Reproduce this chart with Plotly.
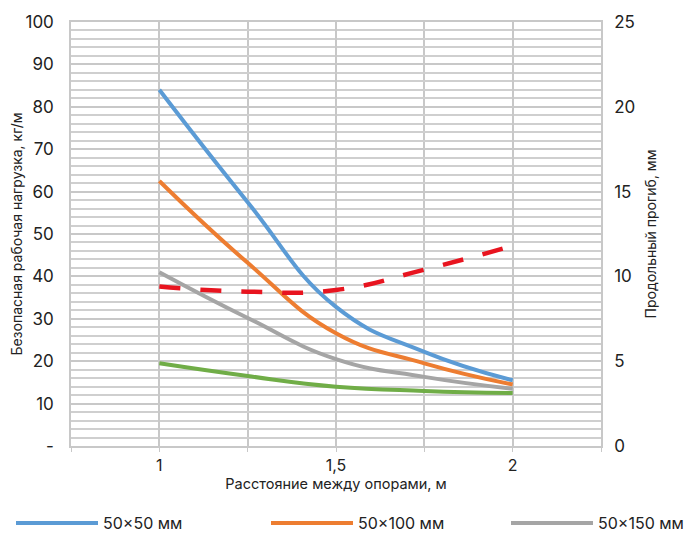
import plotly.graph_objects as go

x = [1.0, 1.25, 1.5, 1.75, 2.0]
s50x50 = [84.0, 57.5, 32.8, 22.2, 15.5]
s50x100 = [62.5, 43.2, 26.6, 19.5, 14.5]
s50x150 = [41.0, 30.2, 20.5, 16.3, 13.5]
s50x200 = [19.5, 16.5, 14.0, 13.0, 12.5]
deflection = [9.4, 9.1, 9.2, 10.4, 11.8]

x_tickvals = [1, 1.5, 2]
x_ticktext = ["1", "1,5", "2"]
y_tickvals = [0, 10, 20, 30, 40, 50, 60, 70, 80, 90, 100]
y_ticktext = ["-", "10", "20", "30", "40", "50", "60", "70", "80", "90", "100"]
y2_tickvals = [0, 5, 10, 15, 20, 25]

FONT = "Inter, Noto Sans, sans-serif"
SM = 1.3

L, R, T, B = 63, 100, 14, 96
W, H = 693, 534
gw = W - L - R
gh = H - T - B

fig = go.Figure()
fig.add_trace(go.Scatter(x=x, y=s50x50, mode="lines", name="50×50 мм", legend="legend",
                         line=dict(color="#5b9bd5", width=4, shape="spline", smoothing=SM)))
fig.add_trace(go.Scatter(x=x, y=s50x100, mode="lines", name="50×100 мм", legend="legend2",
                         line=dict(color="#ed7d31", width=4, shape="spline", smoothing=SM)))
fig.add_trace(go.Scatter(x=x, y=s50x150, mode="lines", name="50×150 мм", legend="legend3",
                         line=dict(color="#a5a5a5", width=4, shape="spline", smoothing=SM)))
fig.add_trace(go.Scatter(x=x, y=s50x200, mode="lines", name="50×200 мм",
                         line=dict(color="#70ad47", width=4, shape="spline", smoothing=SM),
                         showlegend=False))
fig.add_trace(go.Scatter(x=x, y=deflection, mode="lines", name="Прогиб",
                         line=dict(color="#e8141f", width=4.5, shape="spline", smoothing=SM,
                                   dash="21px,20px"),
                         yaxis="y2", showlegend=False))


def leg(fx):
    return dict(orientation="h", xref="paper", yref="paper",
                x=(fx - L) / gw, y=(gh - 515 + T) / gh, xanchor="left", yanchor="middle",
                itemwidth=82, font=dict(size=16), bgcolor="rgba(0,0,0,0)")


fig.update_layout(
    width=W, height=H,
    margin=dict(l=L, r=R, t=T, b=B, autoexpand=False),
    paper_bgcolor="white", plot_bgcolor="white",
    font=dict(family=FONT, color="#222222", size=14),
    xaxis=dict(range=[0.75, 2.25], tickvals=x_tickvals, ticktext=x_ticktext, automargin=False,
               showgrid=True, gridcolor="#c8c8c8", gridwidth=1.5,
               minor=dict(dtick=0.25, tick0=0.75, showgrid=True, gridcolor="#c8c8c8", gridwidth=1.5,
                          ticks="outside", ticklen=4, tickcolor="#c8c8c8"),
               showline=True, linecolor="#c8c8c8", linewidth=1.5, mirror=True,
               ticks="outside", ticklen=4, tickcolor="#c8c8c8",
               zeroline=False,
               title=dict(text="Расстояние между опорами, м", font=dict(size=14.5), standoff=0),
               tickfont=dict(size=16)),
    yaxis=dict(range=[0, 100], tickvals=y_tickvals, ticktext=y_ticktext, automargin=False,
               showgrid=True, gridcolor="#c8c8c8", gridwidth=2,
               minor=dict(dtick=2, tick0=0, showgrid=True, gridcolor="#cfcfcf", gridwidth=2),
               showline=True, linecolor="#c8c8c8", linewidth=1.5,
               zeroline=False, ticks="", ticklabelstandoff=12,
               title=dict(text="Безопасная рабочая нагрузка, кг/м", font=dict(size=14), standoff=6),
               tickfont=dict(size=17)),
    yaxis2=dict(range=[0, 25], tickvals=y2_tickvals, overlaying="y", side="right", automargin=False,
                showgrid=False, zeroline=False, showline=True, linecolor="#c8c8c8", linewidth=1.5,
                ticks="", ticklabelstandoff=8,
                title=dict(text="Продольный прогиб, мм", font=dict(size=14), standoff=12),
                tickfont=dict(size=17)),
    legend=leg(3),
    legend2=leg(258),
    legend3=leg(498),
    showlegend=True,
)

fig.write_html("out.html")
